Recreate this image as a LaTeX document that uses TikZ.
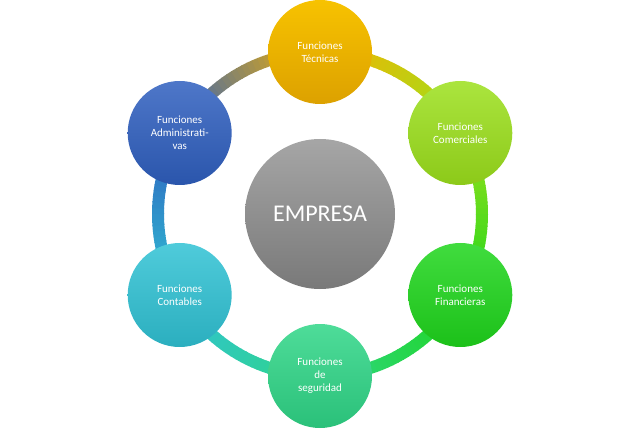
\documentclass[tikz,border=0pt]{standalone}
\usepackage{fontspec}
\setmainfont{Carlito}
\usetikzlibrary{calc}
\begin{document}
\begin{tikzpicture}[x=1pt,y=1pt,
  sat/.style={circle,minimum size=104pt,inner sep=0pt,text=white,font=\fontsize{11}{13}\selectfont,align=center},
]
\useasboundingbox (0,0) rectangle (640,429);
\definecolor{cT}{HTML}{F5B300}
\definecolor{cC}{HTML}{9CE01C}
\definecolor{cF}{HTML}{1FD61C}
\definecolor{cS}{HTML}{2FD687}
\definecolor{cB}{HTML}{30C2D4}
\definecolor{cA}{HTML}{2F5FBF}
\coordinate (o) at (320,215);
% ring
\foreach \a/\ca/\cb in {90/cT/cC,30/cC/cF,-30/cF/cS,-90/cS/cB,-150/cB/cA,150/cA/cT}{
  \foreach \i in {0,...,29}{
    \pgfmathsetmacro{\p}{100-\i*100/29}
    \colorlet{segc}{\ca!\p!\cb}
    \draw[segc,line width=12pt] ([shift={(\a-\i*2:162)}]o) arc[start angle=\a-\i*2,end angle=\a-\i*2-2.3,radius=162];
  }
}
\node[circle,minimum size=150pt,inner sep=0pt,top color=gray!70,bottom color=gray!95!black,text=white,font=\fontsize{24}{28}\selectfont] (e) at (o) {EMPRESA};
\node[sat,top color=cT!80!yellow,bottom color=cT!90!black] (t) at ($(o)+(90:162)$) {Funciones\\Técnicas};
\node[sat,top color=cC!85!white,bottom color=cC!90!black] (c) at ($(o)+(30:162)$) {Funciones\\Comerciales};
\node[sat,top color=cF!85!white,bottom color=cF!90!black] (f) at ($(o)+(-30:162)$) {Funciones\\Financieras};
\node[sat,top color=cS!85!white,bottom color=cS!90!black] (s) at ($(o)+(-90:162)$) {Funciones\\de\\seguridad};
\node[sat,top color=cB!85!white,bottom color=cB!90!black] (b) at ($(o)+(-150:162)$) {Funciones\\Contables};
\node[sat,top color=cA!85!white,bottom color=cA!90!black] (a) at ($(o)+(150:162)$) {Funciones\\Administrati-\\vas};
\end{tikzpicture}
\end{document}
